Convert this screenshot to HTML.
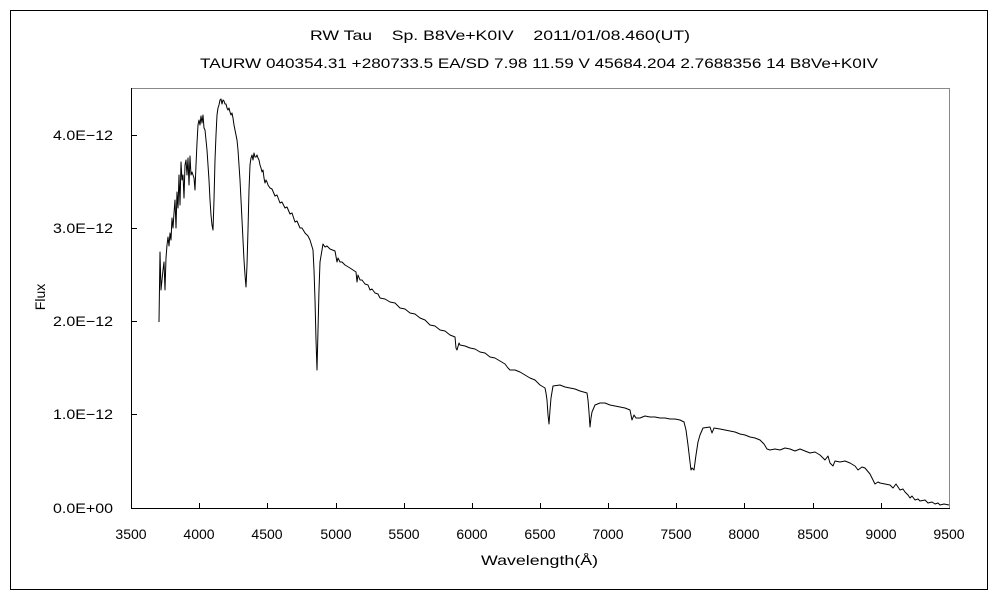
<!DOCTYPE html>
<html><head><meta charset="utf-8"><style>
body{margin:0;background:#fff;}
svg text{font-family:"Liberation Sans","Noto Sans CJK JP",sans-serif;font-size:14px;fill:#000;}
</style></head><body>
<svg width="1000" height="600" xmlns="http://www.w3.org/2000/svg">
<rect x="0" y="0" width="1000" height="600" fill="#fff"/>
<rect x="10.5" y="10.5" width="977" height="579" fill="none" stroke="#000" stroke-width="1"/>
<text x="310" y="40" textLength="380" lengthAdjust="spacingAndGlyphs" xml:space="preserve">RW Tau    Sp. B8Ve+K0IV    2011/01/08.460(UT)</text>
<text x="200" y="68" textLength="678" lengthAdjust="spacingAndGlyphs">TAURW 040354.31 +280733.5 EA/SD 7.98 11.59 V 45684.204 2.7688356 14 B8Ve+K0IV</text>
<polyline points="131,88.5 949.5,88.5 949.5,508" fill="none" stroke="#888" stroke-width="1"/>
<polyline points="131.5,88 131.5,508.5 950,508.5" fill="none" stroke="#000" stroke-width="1"/>
<g stroke="#000" stroke-width="1">
<line x1="131" y1="135.5" x2="137" y2="135.5"/><line x1="131" y1="228.5" x2="137" y2="228.5"/><line x1="131" y1="321.5" x2="137" y2="321.5"/><line x1="131" y1="414.5" x2="137" y2="414.5"/>
<line x1="199.5" y1="508" x2="199.5" y2="503"/><line x1="267.5" y1="508" x2="267.5" y2="503"/><line x1="336.5" y1="508" x2="336.5" y2="503"/><line x1="404.5" y1="508" x2="404.5" y2="503"/><line x1="472.5" y1="508" x2="472.5" y2="503"/><line x1="540.5" y1="508" x2="540.5" y2="503"/><line x1="608.5" y1="508" x2="608.5" y2="503"/><line x1="676.5" y1="508" x2="676.5" y2="503"/><line x1="744.5" y1="508" x2="744.5" y2="503"/><line x1="813.5" y1="508" x2="813.5" y2="503"/><line x1="881.5" y1="508" x2="881.5" y2="503"/>
</g>
<g>
<text x="53" y="140" textLength="60" lengthAdjust="spacingAndGlyphs">4.0E−12</text>
<text x="53" y="233" textLength="60" lengthAdjust="spacingAndGlyphs">3.0E−12</text>
<text x="53" y="326" textLength="60" lengthAdjust="spacingAndGlyphs">2.0E−12</text>
<text x="53" y="419" textLength="60" lengthAdjust="spacingAndGlyphs">1.0E−12</text>
<text x="53" y="513" textLength="60" lengthAdjust="spacingAndGlyphs">0.0E+00</text>
</g>
<g text-anchor="middle">
<text x="131" y="539">3500</text><text x="199" y="539">4000</text><text x="267" y="539">4500</text><text x="336" y="539">5000</text><text x="404" y="539">5500</text><text x="472" y="539">6000</text><text x="540" y="539">6500</text><text x="608" y="539">7000</text><text x="676" y="539">7500</text><text x="744" y="539">8000</text><text x="813" y="539">8500</text><text x="881" y="539">9000</text><text x="949" y="539">9500</text>
<text x="0" y="0" transform="translate(45,297) rotate(-90)">Flux</text>
</g>
<text x="481" y="565" textLength="117" lengthAdjust="spacingAndGlyphs">Wavelength(Å)</text>
<polyline fill="none" stroke="#000" stroke-width="1" stroke-linejoin="round" points="159,322 160,252 161,290 162,280 163,270 164,262 165,290 166,258 167,245 168,237 169,246 170,233 171,240 172,218 173,228 174,213 175,200 176,228 177,192 178,208 179,175 180,205 181,162 182,180 183,175 184,198 185,165 186,160 187,175 188,158 189,185 190,156 191,175 192,172 193,175 194,178 195,190 196,165 197,143 198,125 199,120 200,125 201,116 202,123 203,115 204,128 205,130 206,140 207,150 208,165 209,180 210,200 211,215 212,225 213,230 214,200 215,160 216,135 217,115 218,108 219,105 220,100 221,99 222,104 223,100 224,101 225,104 226,104 227,108 228,110 229,108 230,112 231,115 232,113 233,118 234,125 235,130 236,135 237,140 238,150 239,165 240,180 241,200 242,220 243,240 244,260 245,275 246,287 247,265 248,230 249,190 250,165 251,158 252,155 253,160 254,153 255,157 256,157 257,155 258,158 259,160 260,165 261,168 262,172 263,170 264,178 265,183 266,180 267,182 268,185 270,188 272,189 275,196 277,195 280,203 282,202 285,208 287,207 290,214 292,213 295,222 297,221 300,228 302,228 305,233 308,236 310,240 313,250 314,270 315,300 316,340 317,370 318,330 319,290 320,262 322,250 323,244 325,247 327,246 330,249 335,251 337,262 338,258 340,262 342,262 345,265 350,268 356,272 357,282 358,275 360,280 362,280 365,284 368,285 370,290 372,289 375,293 378,294 380,298 385,299 390,302 395,303 400,308 405,309 410,313 415,314 420,318 425,320 430,325 435,326 440,330 445,331 450,335 455,337 456,348 457,350 459,343 460,345 465,346 470,348 475,349 480,352 485,353 490,357 495,358 500,361 505,364 508,368 510,370 515,370 520,372 525,375 530,378 535,380 540,385 545,388 546,393 547,400 548,415 549,424 550,410 551,398 553,386 560,385 565,387 570,388 575,389 580,391 587,393 588,400 589,412 590,427 591,418 592,412 595,405 600,403 605,403 610,405 615,406 620,407 625,408 630,410 632,420 634,415 636,418 640,418 645,416 650,417 655,417 660,418 665,418 670,419 675,419 680,420 684,422 686,430 688,445 690,462 691,470 692,468 694,470 696,455 698,442 700,435 703,428 710,427 712,433 714,428 720,429 725,430 730,431 735,432 740,434 745,435 750,437 755,438 760,440 764,444 767,449 770,450 775,449 780,450 785,448 790,449 795,451 800,449 805,451 810,453 815,452 820,455 825,460 828,456 830,463 833,466 835,461 840,462 845,461 850,463 855,466 858,470 862,467 865,468 870,474 873,480 875,484 878,482 880,483 885,484 890,485 893,488 896,484 900,490 903,489 905,492 908,495 910,498 912,496 915,500 918,499 920,501 925,500 928,503 932,502 935,504 938,503 940,505 944,504 949,505"/>
</svg>
</body></html>
